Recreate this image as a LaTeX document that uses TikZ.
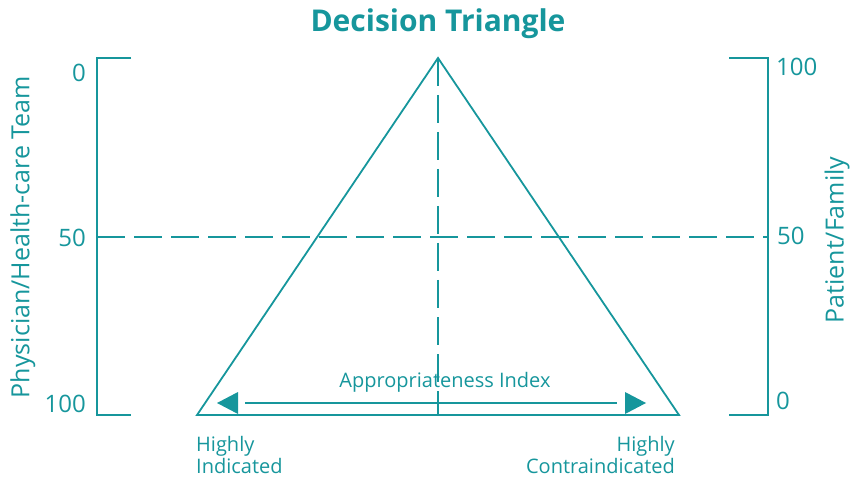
\documentclass[tikz,border=0pt]{standalone}
\usepackage{fontspec}
\setmainfont{Open Sans}
\usepackage{xcolor}
\usetikzlibrary{arrows.meta, positioning}

\definecolor{dtteal}{RGB}{22,150,156}

\begin{document}
\begin{tikzpicture}[
    x=1pt, y=-1pt,
    every node/.style={text=dtteal, inner sep=0pt},
    scaleline/.style={draw=dtteal, line width=1.8pt},
    guideline/.style={draw=dtteal, line width=2.4pt, dash pattern=on 28pt off 9pt},
    tick/.style={font=\fontsize{24}{28}\selectfont},
    axislabel/.style={rotate=90, font=\fontsize{25}{28}\selectfont},
    indexlabel/.style={font=\fontsize{20}{24}\selectfont},
    endlabel/.style={font=\fontsize{20}{22}\selectfont},
    headtip/.style={fill=dtteal}
]
    \useasboundingbox (0,0) rectangle (851,478);

    % ================= TITLE =================
    \node[font=\bfseries\fontsize{30}{34}\selectfont] (title) at (438,24) {Decision Triangle};

    % ================= TRIANGLE =================
    \coordinate (apex) at (438,58);
    \coordinate (baseL) at (197,415);
    \coordinate (baseR) at (679,415);
    \coordinate (baseM) at (438,415);
    \draw[scaleline, line join=miter] (baseL) -- (apex) -- (baseR) -- cycle;
    \draw[guideline] (apex) -- (baseM);

    % ================= LEFT SCALE =================
    \coordinate (lTop) at (97,58);
    \coordinate (lBot) at (97,415);
    \coordinate (lTopEnd) at (131,58);
    \coordinate (lBotEnd) at (131,415);
    \draw[scaleline] (lTopEnd) -- (lTop) -- (lBot) -- (lBotEnd);

    \node[tick, anchor=east] (l0) at (86,73) {0};
    \node[tick, anchor=east] (l50) at (86,238) {50};
    \node[tick, anchor=east] (l100) at (86,404) {100};
    \node[axislabel] (physician) at (23,237) {Physician/Health-care Team};

    % ================= RIGHT SCALE =================
    \coordinate (rTop) at (768,58);
    \coordinate (rBot) at (768,415);
    \coordinate (rTopEnd) at (729,58);
    \coordinate (rBotEnd) at (729,415);
    \draw[scaleline] (rTopEnd) -- (rTop) -- (rBot) -- (rBotEnd);

    \node[tick, anchor=west] (r100) at (776,67) {100};
    \node[tick, anchor=west] (r50) at (777,236) {50};
    \node[tick, anchor=west] (r0) at (776,401) {0};
    \node[axislabel] (patient) at (837,240) {Patient/Family};

    % ================= 50/50 LINE =================
    \coordinate (lMid) at (97,237);
    \coordinate (rMid) at (768,237);
    \draw[guideline] (lMid) -- (rMid);

    % ================= APPROPRIATENESS INDEX =================
    \node[indexlabel] (index) at (445,382) {Appropriateness Index};
    \coordinate (idxL) at (217,403);
    \coordinate (idxR) at (646,403);
    \coordinate (lineL) at (245,403);
    \coordinate (lineR) at (617,403);
    \draw[draw=dtteal, line width=1.6pt] (lineL) -- (lineR);
    % arrow heads stand free of the line
    \fill[headtip] (idxL) -- ++(21,-11) -- ++(0,22) -- cycle;
    \fill[headtip] (idxR) -- ++(-21,-11) -- ++(0,22) -- cycle;

    \node[endlabel, anchor=north west, align=left] (indicated) at (196,436) {Highly\\Indicated};
    \node[endlabel, anchor=north east, align=right] (contra) at (675,436) {Highly\\Contraindicated};

\end{tikzpicture}
\end{document}
